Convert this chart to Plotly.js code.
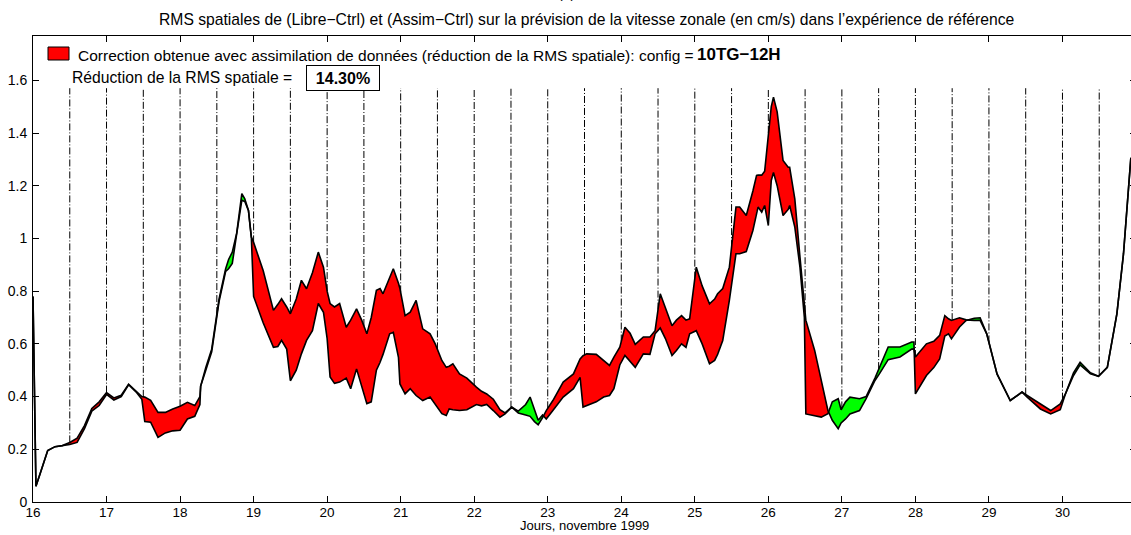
<!DOCTYPE html>
<html><head><meta charset="utf-8">
<script src="https://cdn.plot.ly/plotly-3.0.1.min.js"></script>
<style>html,body{margin:0;padding:0;overflow:hidden;background:#fff}</style>
</head><body><div id="chart" style="width:1140px;height:535px"></div>
<script>
// ---- data ----
const days = [16.00,16.04,16.10,16.20,16.30,16.40,16.50,16.60,16.70,16.80,16.90,17.00,17.10,17.20,17.30,17.40,17.48,17.52,17.60,17.70,17.80,17.90,18.00,18.10,18.20,18.27,18.28,18.35,18.43,18.53,18.62,18.66,18.71,18.77,18.84,18.88,18.93,18.97,19.00,19.13,19.20,19.27,19.33,19.38,19.45,19.50,19.58,19.65,19.72,19.80,19.88,19.95,20.00,20.04,20.10,20.17,20.26,20.32,20.40,20.47,20.54,20.60,20.67,20.72,20.76,20.85,20.90,20.97,20.99,21.06,21.13,21.21,21.30,21.40,21.47,21.56,21.62,21.66,21.71,21.80,21.90,22.03,22.10,22.17,22.26,22.35,22.42,22.51,22.60,22.70,22.76,22.82,22.87,22.93,22.98,23.07,23.21,23.35,23.44,23.48,23.53,23.66,23.76,23.84,23.90,23.98,24.05,24.12,24.19,24.30,24.39,24.46,24.53,24.60,24.69,24.75,24.82,24.88,24.93,25.02,25.10,25.20,25.27,25.31,25.38,25.47,25.56,25.61,25.70,25.79,25.84,25.86,25.91,25.95,26.00,26.04,26.07,26.12,26.20,26.27,26.29,26.36,26.43,26.47,26.49,26.51,26.63,26.72,26.81,26.87,26.95,26.99,27.05,27.11,27.24,27.33,27.45,27.51,27.63,27.79,27.95,27.98,28.00,28.15,28.25,28.33,28.40,28.45,28.49,28.60,28.69,28.80,28.88,28.97,29.11,29.29,29.45,29.52,29.70,29.84,29.97,30.04,30.15,30.24,30.38,30.49,30.61,30.74,30.83,30.93];
const libre = [0.78,0.06,0.11,0.195,0.21,0.214,0.226,0.242,0.29,0.355,0.38,0.415,0.395,0.405,0.447,0.42,0.40,0.398,0.386,0.34,0.34,0.353,0.363,0.378,0.366,0.40,0.44,0.50,0.57,0.76,0.875,0.885,0.905,1.017,1.145,1.14,1.106,1.005,0.985,0.878,0.80,0.727,0.75,0.771,0.74,0.714,0.77,0.841,0.809,0.87,0.948,0.891,0.80,0.753,0.74,0.753,0.663,0.69,0.733,0.69,0.638,0.70,0.803,0.81,0.79,0.85,0.885,0.83,0.81,0.707,0.72,0.765,0.657,0.638,0.60,0.537,0.511,0.515,0.524,0.486,0.47,0.436,0.42,0.41,0.39,0.35,0.338,0.36,0.338,0.33,0.325,0.305,0.293,0.32,0.347,0.385,0.455,0.486,0.543,0.555,0.562,0.56,0.537,0.518,0.55,0.587,0.663,0.64,0.598,0.626,0.626,0.65,0.79,0.74,0.669,0.69,0.707,0.69,0.695,0.891,0.82,0.752,0.77,0.79,0.81,0.891,1.119,1.119,1.087,1.18,1.239,1.24,1.24,1.255,1.40,1.50,1.536,1.48,1.296,1.27,1.27,1.15,0.93,0.814,0.75,0.69,0.575,0.461,0.347,0.31,0.278,0.30,0.315,0.334,0.347,0.392,0.461,0.486,0.54,0.55,0.58,0.581,0.55,0.60,0.61,0.632,0.707,0.695,0.689,0.699,0.691,0.689,0.689,0.638,0.486,0.385,0.417,0.404,0.372,0.347,0.372,0.41,0.48,0.52,0.486,0.477,0.511,0.714,0.942,1.306];
const assim = [0.78,0.06,0.11,0.195,0.21,0.214,0.218,0.226,0.278,0.345,0.366,0.408,0.387,0.40,0.445,0.418,0.39,0.305,0.303,0.245,0.262,0.27,0.272,0.315,0.325,0.37,0.44,0.51,0.58,0.77,0.885,0.92,0.948,1.02,1.17,1.15,1.106,1.0,0.78,0.68,0.63,0.587,0.59,0.613,0.58,0.46,0.50,0.562,0.613,0.65,0.753,0.72,0.62,0.474,0.45,0.455,0.47,0.43,0.505,0.44,0.373,0.38,0.50,0.53,0.56,0.638,0.644,0.549,0.448,0.41,0.43,0.404,0.385,0.398,0.37,0.335,0.328,0.353,0.35,0.347,0.35,0.37,0.365,0.37,0.347,0.322,0.334,0.36,0.345,0.37,0.398,0.35,0.31,0.33,0.315,0.347,0.398,0.43,0.473,0.36,0.365,0.38,0.398,0.404,0.43,0.52,0.556,0.535,0.511,0.562,0.56,0.638,0.66,0.62,0.556,0.575,0.60,0.587,0.638,0.65,0.60,0.524,0.537,0.56,0.613,0.765,0.942,0.942,0.95,1.03,1.10,1.119,1.10,1.125,1.049,1.22,1.25,1.20,1.087,1.11,1.125,1.043,0.891,0.78,0.70,0.334,0.328,0.322,0.335,0.38,0.392,0.35,0.38,0.398,0.392,0.40,0.47,0.511,0.588,0.588,0.607,0.607,0.41,0.48,0.51,0.543,0.63,0.638,0.619,0.664,0.689,0.697,0.699,0.638,0.486,0.385,0.417,0.398,0.353,0.334,0.35,0.41,0.49,0.53,0.49,0.477,0.511,0.714,0.942,1.306];
const halfDays = [16.5,17,17.5,18,18.5,19,19.5,20,20.5,21,21.5,22,22.5,23,23.5,24,24.5,25,25.5,26,26.5,27,27.5,28,28.5,29,29.5,30,30.5];
const xTicks = [16,17,18,19,20,21,22,23,24,25,26,27,28,29,30];
const yTicks = [0,0.2,0.4,0.6,0.8,1,1.2,1.4,1.6];
const titleText = "RMS spatiales de (Libre\u2212Ctrl) et (Assim\u2212Ctrl) sur la pr\u00e9vision de la vitesse zonale (en cm/s) dans l\u2019exp\u00e9rience de r\u00e9f\u00e9rence";
const legendText = "Correction obtenue avec assimilation de donn\u00e9es (r\u00e9duction de la RMS spatiale): config =";
const configText = "10TG\u221212H";
const reducLabel = "R\u00e9duction de la RMS spatiale =";
const reducValue = "14.30%";

// ---- build filled regions between the two curves ----
const pts = [];
for (let i = 0; i < days.length; i++) {
  pts.push({x: days[i], a: libre[i], b: assim[i]});
  if (i < days.length - 1) {
    const d0 = libre[i] - assim[i], d1 = libre[i+1] - assim[i+1];
    if (d0 * d1 < 0) {
      const t = d0 / (d0 - d1);
      const x = days[i] + t * (days[i+1] - days[i]);
      const v = libre[i] + t * (libre[i+1] - libre[i]);
      pts.push({x: x, a: v, b: v});
    }
  }
}
const runs = [];
let cur = null;
for (let j = 0; j < pts.length - 1; j++) {
  const s = (pts[j].a - pts[j].b) + (pts[j+1].a - pts[j+1].b);
  const sign = s > 1e-9 ? 1 : (s < -1e-9 ? -1 : 0);
  if (sign === 0) { cur = null; continue; }
  if (!cur || cur.sign !== sign) {
    cur = {sign: sign, idx: [j]};
    runs.push(cur);
  }
  cur.idx.push(j+1);
}
const traces = [];
runs.forEach(r => {
  const xs = [], ys = [];
  r.idx.forEach(k => { xs.push(pts[k].x); ys.push(pts[k].a); });
  for (let m = r.idx.length - 1; m >= 0; m--) { xs.push(pts[r.idx[m]].x); ys.push(pts[r.idx[m]].b); }
  traces.push({x: xs, y: ys, type: 'scatter', mode: 'lines', fill: 'toself',
    fillcolor: r.sign > 0 ? '#ff0000' : '#00ff00', line: {width: 0}, hoverinfo: 'skip', showlegend: false});
});
traces.push({x: days, y: libre, type: 'scatter', mode: 'lines', line: {color: '#000', width: 1.6}, showlegend: false});
traces.push({x: days, y: assim, type: 'scatter', mode: 'lines', line: {color: '#000', width: 1.6}, showlegend: false});

function upperAt(x) {
  for (let i = 0; i < days.length - 1; i++) {
    if (x >= days[i] && x <= days[i+1]) {
      const t = (x - days[i]) / (days[i+1] - days[i]);
      const a = libre[i] + t * (libre[i+1] - libre[i]);
      const b = assim[i] + t * (assim[i+1] - assim[i]);
      return Math.max(a, b);
    }
  }
  return 0;
}
const shapes = halfDays.map(h => ({type: 'line', xref: 'x', yref: 'y', x0: h, x1: h, y0: upperAt(h), y1: 1.57,
  layer: 'below', line: {color: '#000', width: 1, dash: '7px,2px,1px,2px'}}));

// legend box
const W = 1140, H = 535, L = 33, R = 4, T = 36, B = 33;
const pw = W - L - R, ph = H - T - B;
const px = v => (v - L) / pw;
const py = v => (H - B - v) / ph;
shapes.push({type: 'rect', xref: 'paper', yref: 'paper', x0: px(48), x1: px(69), y0: py(60), y1: py(47),
  fillcolor: '#ff0000', line: {color: '#000', width: 1}});

const font = 'Liberation Sans, Arial, Helvetica, sans-serif';
const annotations = [
  {xref: 'paper', yref: 'paper', x: px(76), y: py(55), xanchor: 'left', yanchor: 'middle', showarrow: false,
   text: legendText, font: {family: font, size: 15.5, color: '#000'}},
  {xref: 'paper', yref: 'paper', x: px(695), y: py(54), xanchor: 'left', yanchor: 'middle', showarrow: false,
   text: '<b>' + configText + '</b>', font: {family: font, size: 17, color: '#000'}},
  {xref: 'paper', yref: 'paper', x: px(70), y: py(77), xanchor: 'left', yanchor: 'middle', showarrow: false,
   text: reducLabel, font: {family: font, size: 15.7, color: '#000'}},
  {xref: 'paper', yref: 'paper', x: px(342.5), y: py(78), xanchor: 'center', yanchor: 'middle', showarrow: false,
   text: '<b>' + reducValue + '</b>', font: {family: font, size: 16, color: '#000'},
   bordercolor: '#000', borderwidth: 1, borderpad: 2, bgcolor: '#fff', width: 68, height: 20},
  {xref: 'paper', yref: 'paper', x: px(587), y: py(20), xanchor: 'center', yanchor: 'middle', showarrow: false,
   text: titleText, font: {family: font, size: 15.7, color: '#000'}},
  {xref: 'paper', yref: 'paper', x: px(584), y: py(525), xanchor: 'center', yanchor: 'middle', showarrow: false,
   text: 'Jours, novembre 1999', font: {family: font, size: 13, color: '#000'}},
  {xref: 'paper', yref: 'paper', x: px(566), y: py(3), xanchor: 'center', yanchor: 'bottom', showarrow: false,
   text: '(a)', font: {family: font, size: 14, color: '#000'}}
];

const layout = {
  width: W, height: H,
  margin: {l: L, r: R, t: T, b: B, pad: 0},
  paper_bgcolor: '#fff', plot_bgcolor: '#fff',
  showlegend: false,
  xaxis: {range: [16, 31], tickvals: xTicks, ticktext: xTicks.map(String), ticks: 'inside', ticklen: 6,
    tickcolor: '#000', showline: true, linecolor: '#000', linewidth: 1, mirror: 'ticks', showgrid: false,
    zeroline: false, ticklabelstandoff: -2, tickfont: {family: font, size: 13.5, color: '#000'}},
  yaxis: {range: [0, 1.768], tickvals: yTicks, ticktext: yTicks.map(String), ticks: 'inside', ticklen: 6,
    tickcolor: '#000', showline: true, linecolor: '#000', linewidth: 1, mirror: 'ticks', showgrid: false,
    zeroline: false, ticklabelstandoff: 2, tickfont: {family: font, size: 14, color: '#000'}},
  shapes: shapes,
  annotations: annotations
};
Plotly.newPlot('chart', traces, layout, {staticPlot: true, displayModeBar: false});
</script></body></html>
